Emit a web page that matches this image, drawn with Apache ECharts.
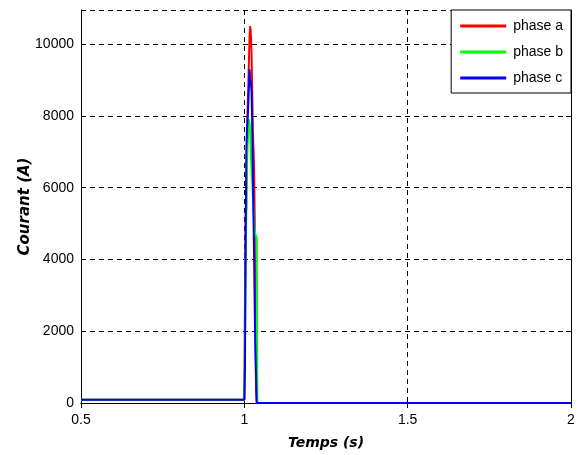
<!DOCTYPE html>
<html><head><meta charset="utf-8">
<script src="https://cdn.jsdelivr.net/npm/echarts@6/dist/echarts.min.js"></script>
<style>html,body{margin:0;padding:0;background:#fff}#c{width:582px;height:455px}</style>
</head><body><div id="c"></div>
<script>
const time = [0.5, 1.0, 1.002, 1.004, 1.006, 1.008, 1.010, 1.012, 1.014, 1.016, 1.018, 1.020, 1.022, 1.024, 1.026, 1.028, 1.030, 1.032, 1.034, 1.036, 1.038, 1.040, 1.042, 2.0];
const phaseA = [90, 90, 3000, 5300, 5400, 7200, 8200, 8800, 9500, 10200, 10500, 10300, 9800, 8800, 7600, 7100, 6500, 5000, 2000, 300, 0, 0, 0, 0];
const phaseB = [90, 90, 1800, 4000, 5200, 6500, 7200, 7600, 7900, 7800, 7500, 7000, 6500, 6200, 5800, 5400, 5000, 4800, 4700, 4700, 4600, 0, 0, 0];
const phaseC = [90, 90, 1000, 4500, 7000, 7600, 7900, 8300, 8800, 9300, 9000, 8900, 8700, 7800, 6500, 5200, 4000, 2500, 1400, 1400, 0, 0, 0, 0];
const seriesNames = ['phase a', 'phase b', 'phase c'];
const xTicks = [0.5, 1, 1.5, 2];

const chart = echarts.init(document.getElementById('c'));
const font = 'Liberation Sans, Arial, sans-serif';
const titleFont = 'DejaVu Sans, sans-serif';
const mk = (name, vals, color) => ({
  name, type: 'line', data: time.map((t, i) => [t, vals[i]]),
  showSymbol: false, symbol: 'none', animation: false,
  lineStyle: { color, width: 2 }, itemStyle: { color }
});
chart.setOption({
  animation: false,
  grid: { left: 81, top: 10, right: 11, bottom: 52 },
  legend: {
    data: seriesNames, orient: 'vertical', right: 11, top: 10,
    icon: 'rect', itemWidth: 46, itemHeight: 3, itemGap: 12,
    padding: [9, 8, 8, 9], borderColor: '#000', borderWidth: 1, borderRadius: 0,
    backgroundColor: '#fff',
    textStyle: { fontFamily: font, fontSize: 14, color: '#000', padding: [0, 0, 0, 2] }
  },
  xAxis: [{
    type: 'value', min: 0.5, max: 2, interval: 0.5,
    name: 'Temps (s)', nameLocation: 'middle', nameGap: 33, nameMoveOverlap: false,
    nameTextStyle: { fontFamily: titleFont, fontSize: 14, fontWeight: 'bold', fontStyle: 'italic', color: '#000' },
    axisLine: { lineStyle: { color: '#000', width: 1 } },
    axisTick: { inside: true, length: 5, lineStyle: { color: '#000' } },
    axisLabel: { fontFamily: font, fontSize: 14, color: '#000', margin: 10,
      formatter: v => xTicks.includes(+v.toFixed(3)) ? String(+v.toFixed(3)) : '' },
    splitLine: { show: true, lineStyle: { color: '#000', type: [5, 4], width: 1 } }
  }, {
    type: 'value', min: 0.5, max: 2, interval: 0.5, position: 'top',
    axisLine: { show: true, lineStyle: { color: '#000' } },
    axisTick: { inside: true, length: 5, lineStyle: { color: '#000' } },
    axisLabel: { show: false }, splitLine: { show: false }
  }],
  yAxis: [{
    type: 'value', min: 0, max: 10950, interval: 2000,
    name: 'Courant (A)', nameLocation: 'middle', nameGap: 48, nameRotate: 90, nameMoveOverlap: false,
    nameTextStyle: { fontFamily: titleFont, fontSize: 15, fontWeight: 'bold', fontStyle: 'italic', color: '#000' },
    axisLine: { show: true, lineStyle: { color: '#000', width: 1 } },
    axisTick: { show: true, inside: true, length: 5, lineStyle: { color: '#000' } },
    axisLabel: { fontFamily: font, fontSize: 14, color: '#000', margin: 7,
      formatter: v => (v % 2000 === 0 ? String(v) : '') },
    splitLine: { show: true, lineStyle: { color: '#000', type: [5, 4], width: 1 } }
  }, {
    type: 'value', min: 0, max: 10950, interval: 2000, position: 'right',
    axisLine: { show: true, lineStyle: { color: '#000' } },
    axisTick: { show: true, inside: true, length: 5, lineStyle: { color: '#000' } },
    axisLabel: { show: false }, splitLine: { show: false }
  }],
  series: [mk(seriesNames[0], phaseA, '#ff0000'), mk(seriesNames[1], phaseB, '#00ff00'), mk(seriesNames[2], phaseC, '#0000ff')]
});
</script></body></html>
